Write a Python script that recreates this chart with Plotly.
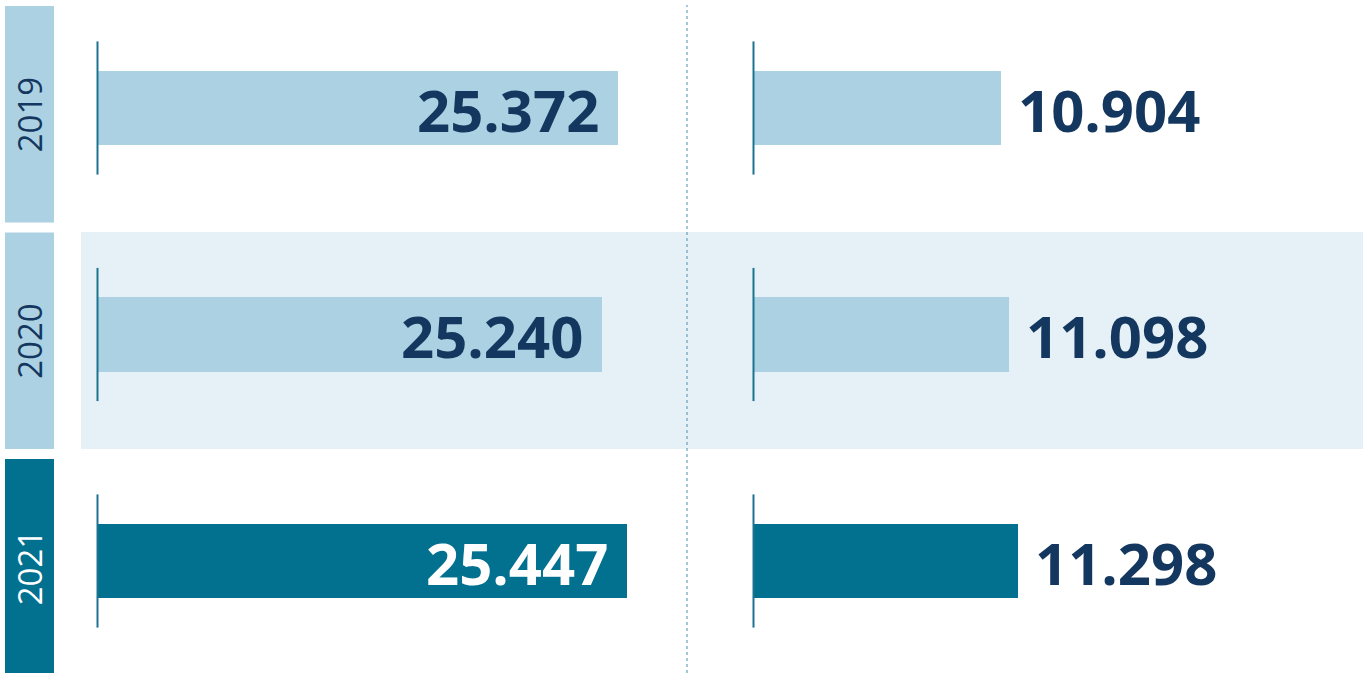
import plotly.graph_objects as go

years = ["2019", "2020", "2021"]
left_values = [25372, 25240, 25447]
right_values = [10904, 11098, 11298]
left_baseline = 21000
right_baseline = 5000

W, H = 1370, 673
LIGHT = "#abd1e3"
TEAL = "#02708f"
NAVY = "#14375f"
BAND = "#e6f1f7"

bar_colors = [LIGHT, LIGHT, TEAL]
inside_text_colors = [NAVY, NAVY, "#ffffff"]
year_text_colors = [NAVY, NAVY, "#ffffff"]

def fmt(v):
    return f"{v:,}".replace(",", ".")

fig = go.Figure()
fig.add_trace(go.Bar(
    y=years, x=left_values, base=0, orientation="h", width=0.327,
    marker=dict(color=bar_colors, line=dict(width=0)),
    xaxis="x", yaxis="y", hoverinfo="skip", showlegend=False))
fig.add_trace(go.Bar(
    y=years, x=right_values, orientation="h", width=0.327,
    marker=dict(color=bar_colors, line=dict(width=0)),
    xaxis="x2", yaxis="y", hoverinfo="skip", showlegend=False))

px = lambda x: x / W

k_left = 521 / (25372 - left_baseline)
k_right = 248 / (10904 - right_baseline)
left_end = left_baseline + (687 - 97) / k_left
right_end = right_baseline + (1363 - 753) / k_right

shapes = []
annotations = []

shapes.append(dict(type="rect", xref="paper", yref="y", x0=px(81), x1=px(1363),
                   y0=1 - 0.453, y1=1 + 0.506, fillcolor=BAND, line=dict(width=0), layer="below"))

for i, yr in enumerate(years):
    shapes.append(dict(type="rect", xref="paper", yref="y", x0=px(5), x1=px(54),
                       y0=i - 0.45, y1=i + 0.505, fillcolor=bar_colors[i],
                       line=dict(width=0), layer="below"))
    annotations.append(dict(xref="paper", yref="y", x=px(29.5), y=i + 0.03, text=yr,
                            textangle=-90, showarrow=False, xanchor="center", yanchor="middle",
                            font=dict(family="Open Sans", size=33, color=year_text_colors[i])))
    for xp in (97.5, 753.5):
        shapes.append(dict(type="line", xref="paper", yref="y", x0=px(xp), x1=px(xp),
                           y0=i - 0.294, y1=i + 0.294, line=dict(color="#1a7391", width=2),
                           layer="above"))
    annotations.append(dict(xref="x", yref="y", x=left_values[i], y=i, text="<b>" + fmt(left_values[i]) + "</b>",
                            xanchor="right", xshift=-17, yshift=-1, showarrow=False,
                            font=dict(family="Open Sans", size=58, color=inside_text_colors[i])))
    annotations.append(dict(xref="x2", yref="y", x=right_values[i], y=i, text="<b>" + fmt(right_values[i]) + "</b>",
                            xanchor="left", xshift=15, yshift=-1, showarrow=False,
                            font=dict(family="Open Sans", size=58, color=NAVY)))

shapes.append(dict(type="line", xref="paper", yref="paper", x0=px(687), x1=px(687),
                   y0=0, y1=1 - 5 / H, line=dict(color="#4d8fae", width=1, dash="dot"), layer="above"))

fig.update_layout(
    width=W, height=H,
    margin=dict(l=0, r=0, t=0, b=0),
    paper_bgcolor="white", plot_bgcolor="rgba(0,0,0,0)",
    bargap=0,
    xaxis=dict(domain=[px(97), px(687)], range=[left_baseline, left_end], visible=False,
               anchor="y", fixedrange=True),
    xaxis2=dict(domain=[px(753), px(1363)], range=[right_baseline, right_end], visible=False,
                anchor="y", fixedrange=True),
    yaxis=dict(domain=[0, 1], type="category", categoryorder="array", categoryarray=years,
               range=[(673 - 108) / 226.5, -108 / 226.5], visible=False, fixedrange=True),
    shapes=shapes, annotations=annotations,
)

fig.write_html("out.html", config={"displayModeBar": False},
               post_script="document.body.style.margin='0';document.body.style.overflow='hidden';")
